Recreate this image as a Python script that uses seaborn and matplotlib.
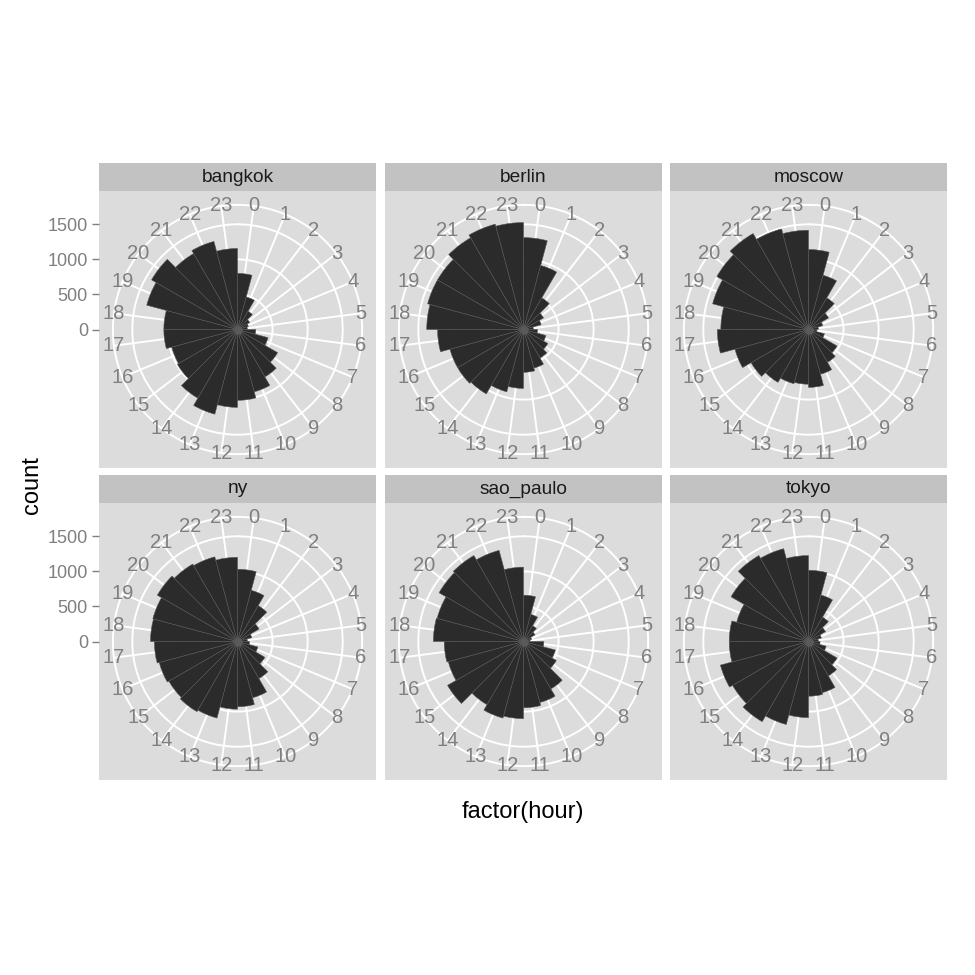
import numpy as np
import pandas as pd
import seaborn as sns
import matplotlib
matplotlib.use("Agg")
import matplotlib.pyplot as plt

# counts per hour of day
hours = list(range(24))
cities = ["bangkok", "berlin", "moscow", "ny", "sao_paulo", "tokyo"]
bangkok = [800, 480, 300, 200, 160, 140, 260, 450, 660, 780, 920, 1010,
           1110, 1250, 1130, 990, 970, 1050, 1050, 1340, 1415, 1250, 1300, 1155]
berlin = [1310, 945, 520, 330, 260, 140, 200, 330, 400, 470, 570, 610,
          840, 920, 1060, 1085, 1085, 1225, 1380, 1415, 1415, 1510, 1555, 1525]
moscow = [1140, 800, 520, 330, 210, 140, 120, 235, 470, 540, 660, 825,
          780, 800, 870, 945, 1085, 1300, 1250, 1415, 1510, 1580, 1485, 1415]
ny = [1030, 755, 590, 355, 210, 140, 170, 300, 450, 610, 830, 930,
      965, 1130, 1155, 1130, 1155, 1185, 1240, 1250, 1320, 1275, 1250, 1200]
sao_paulo = [660, 400, 260, 190, 120, 95, 290, 470, 540, 780, 900, 945,
             1100, 1130, 1040, 1250, 1110, 1130, 1285, 1275, 1390, 1415, 1345, 1060]
tokyo = [1015, 685, 400, 280, 190, 140, 165, 260, 470, 565, 755, 780,
         1085, 1225, 1320, 1250, 1300, 1130, 1130, 1060, 1275, 1415, 1370, 1225]
y_breaks = [0, 500, 1000, 1500]

df = pd.DataFrame({
    "city": np.repeat(cities, len(hours)),
    "hour": hours * len(cities),
    "count": bangkok + berlin + moscow + ny + sao_paulo + tokyo,
})

# ggplot coord_polar: data max -> r 0.4, theta labels on 0.45, panel edge 0.5
M = df["count"].max()
r_outer = 1.125 * M
r_lim = 1.25 * M
step = 2 * np.pi / len(hours)

sns.set_theme(style="white")
plt.rcParams["font.family"] = ["Liberation Sans", "DejaVu Sans"]

panel_bg = "#dcdcdc"
strip_bg = "#c2c2c2"
grey50 = "#7f7f7f"

g = sns.FacetGrid(df, col="city", col_wrap=3, col_order=cities, height=3,
                  subplot_kws={"projection": "polar"}, despine=False)


def rose(data, color=None, **kws):
    ax = plt.gca()
    theta = data["hour"].to_numpy() * step
    ax.bar(theta, data["count"], width=step, align="edge", color="#2b2b2b",
           edgecolor="#555555", linewidth=0.4, zorder=3)


g.map_dataframe(rose)
g.set_titles("")
g.set_axis_labels("", "")

fig = g.figure
fig.set_layout_engine("none")
fig.set_size_inches(9.75, 9.75)
fig.set_dpi(100)

W = 975
col_x = [99, 385, 670]
row_y = [191, 503]
size = 277
strip_h = 28
circle_t = np.linspace(0, 2 * np.pi, 400)

for i, city in enumerate(cities):
    ax = g.axes_dict[city]
    r, c = divmod(i, 3)
    x0, y0 = col_x[c], row_y[r]
    rect = [x0 / W, 1 - (y0 + size) / W, size / W, size / W]

    # grey rectangular panel, carries the count axis on the left column
    bg = fig.add_axes(rect, zorder=0)
    bg.set_facecolor(panel_bg)
    bg.set_xlim(-r_lim, r_lim)
    bg.set_ylim(-r_lim, r_lim)
    bg.set_xticks([])
    for s in bg.spines.values():
        s.set_visible(False)
    if c == 0:
        bg.set_yticks(y_breaks)
        bg.set_yticklabels([str(v) for v in y_breaks])
        bg.tick_params(axis="y", left=True, length=5, width=1, color=grey50,
                       labelcolor=grey50, labelsize=13, pad=3)
    else:
        bg.set_yticks([])

    ax.set_position(rect)
    ax.set_zorder(2)
    ax.patch.set_visible(False)
    ax.spines["polar"].set_visible(False)
    ax.set_theta_zero_location("N")
    ax.set_theta_direction(-1)
    ax.set_ylim(0, r_lim)
    ax.set_xticks([])
    ax.set_yticks([])
    ax.grid(False)
    ax.set_title("")

    # white grid: circles at breaks + outer ring, spokes through bar centres
    for rv in y_breaks[1:] + [r_outer]:
        ax.plot(circle_t, np.full_like(circle_t, rv), color="white", lw=1.4, zorder=1)
    for h in hours:
        t = (h + 0.5) * step
        ax.plot([t, t], [0, r_outer], color="white", lw=1.4, zorder=1)
        ax.text(t, r_outer, str(h), ha="center", va="center", fontsize=14.5,
                color=grey50, zorder=4)
    ax.plot(0, 0, "o", ms=5, color="#5a5a5a", zorder=4)

    # facet strip
    st = fig.add_axes([x0 / W, 1 - y0 / W, size / W, strip_h / W])
    st.set_facecolor(strip_bg)
    st.set_xticks([])
    st.set_yticks([])
    for s in st.spines.values():
        s.set_visible(False)
    st.text(0.5, 0.5, city, ha="center", va="center", fontsize=13.8,
            color="#1a1a1a", transform=st.transAxes)

fig.text(32 / W, 1 - 485.5 / W, "count", rotation=90, ha="center",
         va="center", fontsize=17, color="black")
fig.text(523 / W, 1 - 812 / W, "factor(hour)", ha="center", va="center",
         fontsize=17, color="black")

fig.savefig("out.png", dpi=100, facecolor="white")
